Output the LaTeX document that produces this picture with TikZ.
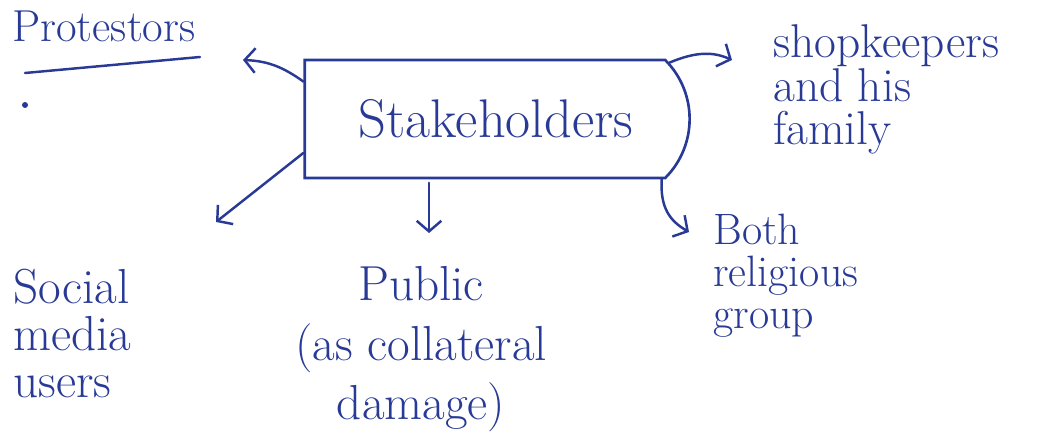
\documentclass[tikz,border=0pt]{standalone}
\usepackage{tikz}
\usetikzlibrary{arrows.meta,shapes.misc}

\definecolor{ink}{RGB}{40,58,150}

\begin{document}
\begin{tikzpicture}[
    x=0.02cm, y=0.02cm,
    every node/.style={text=ink, inner sep=0pt},
    hand/.style={
      font=\fontsize{28}{27}\selectfont,
      align=left, anchor=base west
    },
    stakebox/.style={
      draw=ink, line width=1.5pt,
      rounded rectangle, rounded rectangle west arc=none,
      rounded rectangle arc length=90,
      minimum width=7.7cm, minimum height=2.36cm,
      font=\fontsize{31}{34}\selectfont
    },
    arrow/.style={-{Straight Barb[length=6pt,width=14pt]}, line width=1.4pt, line cap=round, ink}
  ]
    \useasboundingbox (0,0) rectangle (1062,443);

    \node[hand, font=\fontsize{25.5}{28}\selectfont] (protest) at (12,401) {Protestors};
    \draw[ink, line width=1.4pt, line cap=round] (25,370) -- (200,386);
    \fill[ink] (25,338) circle (3);

    \node[stakebox] (stake) at (496,324) {Stakeholders};

    % multi-line nodes sit on the baseline of their last line
    \node[hand, font=\fontsize{27}{25}\selectfont] (shop) at (773,298)
      {shopkeepers\\and his\\family};
    \node[hand] (social) at (13,45) {Social\\media\\users};
    \node[hand, align=center, anchor=base, font=\fontsize{28}{34}\selectfont] (public) at (421,23)
      {Public\\(as collateral\\damage)};
    \node[hand, font=\fontsize{25}{24}\selectfont] (religion) at (713,114)
      {Both\\religious\\group};

    % free ends of the arrows
    \coordinate (ptip)  at (243,383);
    \coordinate (shtip) at (732,383);
    \coordinate (sotip) at (216,221);
    \coordinate (putip) at (429,210);
    \coordinate (retip) at (689,211);

    \draw[arrow] (stake.169) .. controls (283,376) and (268,382) .. (ptip);
    \draw[arrow] (stake.18) .. controls (697,392) and (714,391) .. (shtip);
    \draw[arrow] (stake.190) -- (sotip);
    \draw[arrow, shorten <=2pt] (stake.south -| putip) -- (putip);
    \draw[arrow] (stake.-20) .. controls (660,235) and (670,222) .. (retip);

  \end{tikzpicture}
\end{document}
